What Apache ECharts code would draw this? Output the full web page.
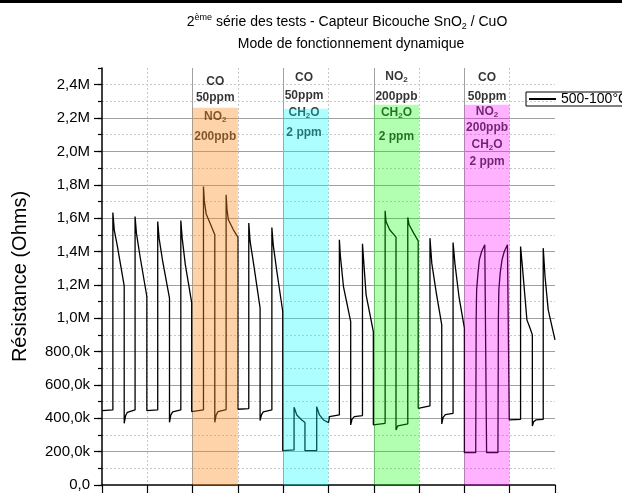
<!DOCTYPE html>
<html>
<head>
<meta charset="utf-8">
<script src="https://cdn.jsdelivr.net/npm/echarts@6/dist/echarts.min.js"></script>
<style>
  html, body { margin: 0; padding: 0; background: #fff; }
  #chart { width: 622px; height: 496px; }
</style>
</head>
<body>
<div id="chart"></div>
<script>
// time (arbitrary units, no labels on the x axis) and resistance in kOhm
const timeData = [
  0, 2.4, 2.4, 2.7, 3.4, 4.9, 4.9, 5.2, 5.6, 7.3,
  7.3, 7.6, 8.4, 9.9, 9.9, 12.3, 12.3, 12.6, 13.4, 14.9,
  14.9, 15.2, 15.6, 17.4, 17.4, 17.7, 18.4, 19.8, 19.8, 22.4,
  22.4, 22.6, 23.0, 24.0, 24.9, 24.9, 25.2, 25.6, 27.4, 27.4,
  27.6, 27.9, 29.0, 30.0, 30.0, 32.4, 32.4, 32.7, 33.5, 34.9,
  34.9, 35.2, 35.6, 37.5, 37.5, 37.8, 38.6, 39.9, 39.9, 42.4,
  42.4, 43.0, 44.1, 44.8, 44.8, 47.4, 47.4, 48.0, 48.9, 50.0,
  50.2, 52.4, 52.4, 52.6, 53.3, 54.9, 54.9, 55.2, 55.7, 57.5,
  57.5, 57.8, 58.3, 59.9, 59.9, 62.5, 62.5, 62.7, 63.5, 64.9,
  64.9, 65.3, 67.5, 67.5, 67.8, 68.8, 69.8, 69.8, 72.4, 72.4,
  72.8, 73.8, 75.0, 75.0, 75.3, 75.8, 77.5, 77.5, 77.9, 78.8,
  80.0, 80.0, 82.5, 82.6, 82.7, 83.0, 83.3, 83.8, 84.5, 84.9,
  84.9, 87.4, 87.5, 87.6, 87.9, 88.3, 88.8, 89.5, 89.9, 89.9,
  92.4, 92.4, 92.8, 93.8, 94.5, 95.0, 95.0, 95.3, 95.8, 97.4,
  97.4, 97.8, 98.5, 100
];
const resistData = [
  446, 450, 1634, 1530, 1430, 1194, 370, 415, 436, 450,
  1610, 1510, 1370, 1130, 446, 450, 1580, 1480, 1340, 1120,
  376, 420, 438, 450, 1586, 1480, 1320, 1094, 440, 450,
  1790, 1700, 1625, 1560, 1500, 376, 420, 440, 452, 1740,
  1650, 1590, 1530, 1486, 454, 458, 1570, 1460, 1320, 1060,
  386, 420, 438, 450, 1544, 1440, 1280, 1040, 206, 210,
  466, 420, 390, 374, 206, 206, 470, 420, 390, 374,
  410, 420, 1470, 1380, 1190, 980, 360, 395, 410, 416,
  1446, 1330, 1140, 920, 360, 370, 1644, 1580, 1530, 1486,
  330, 355, 366, 1604, 1560, 1510, 1464, 460, 474, 1480,
  1330, 1150, 960, 366, 405, 422, 430, 1454, 1330, 1130,
  940, 194, 194, 1000, 1170, 1270, 1350, 1400, 1440, 1446,
  194, 194, 1000, 1170, 1270, 1350, 1400, 1440, 1446, 390,
  394, 1430, 1310, 990, 940, 900, 354, 380, 390, 394,
  1420, 1250, 1050, 870
];

// gas exposure windows
const bandStart = [20, 40, 60, 80];
const bandEnd = [30, 50, 70, 90];
const bandTop = [2262, 2256, 2280, 2280];
const bandColors = ['rgba(255,140,30,0.38)', 'rgba(0,255,255,0.32)', 'rgba(0,255,0,0.3)', 'rgba(255,0,255,0.3)'];

// annotations (x, y in kOhm, text)
const noteX = [25, 25, 25, 25, 44.6, 44.6, 44.6, 44.6, 65, 65, 65, 65, 85, 85, 85, 85, 85, 85];
const noteY = [2420, 2320, 2206, 2090, 2440, 2334, 2230, 2110, 2448, 2326, 2230, 2090, 2440, 2330, 2236, 2140, 2040, 1940];
const noteText = [
  'CO', '50ppm', 'NO{s|2}', '200ppb',
  'CO', '50ppm', 'CH{s|2}O', '2 ppm',
  'NO{s|2}', '200ppb', 'CH{s|2}O', '2 ppm',
  'CO', '50ppm', 'NO{s|2}', '200ppb', 'CH{s|2}O', '2 ppm'
];

const majorTicks = [0, 200, 400, 600, 800, 1000, 1200, 1400, 1600, 1800, 2000, 2200, 2400];

const font = 'Liberation Sans, Arial, sans-serif';

function fmtRes(v) {
  if (v === 0) return '0,0';
  if (v % 200 !== 0) return '';
  if (v >= 1000) return (v / 1000).toFixed(1).replace('.', ',') + 'M';
  return v.toFixed(1).replace('.', ',') + 'k';
}

const chart = echarts.init(document.getElementById('chart'));

const option = {
  animation: false,
  textStyle: { fontFamily: font },
  graphic: [
    { type: 'rect', left: 0, top: 0, shape: { width: 622, height: 3 }, style: { fill: '#000' } }
  ],
  title: [
    {
      text: '2{sup|ème} série des tests - Capteur Bicouche SnO{sub|2} / CuO',
      left: 342, top: 8, textAlign: 'center',
      textStyle: {
        fontFamily: font, fontSize: 14, fontWeight: 'normal', color: '#000', lineHeight: 18,
        rich: {
          sup: { fontFamily: font, fontSize: 9, color: '#000', verticalAlign: 'top', lineHeight: 18 },
          sub: { fontFamily: font, fontSize: 9, color: '#000', verticalAlign: 'bottom', lineHeight: 18 }
        }
      }
    },
    {
      text: 'Mode de fonctionnement dynamique',
      left: 346, top: 32, textAlign: 'center',
      textStyle: { fontFamily: font, fontSize: 14, fontWeight: 'normal', color: '#000' }
    }
  ],
  legend: {
    data: ['500-100°C'],
    left: 526, top: 92,
    orient: 'vertical',
    borderColor: '#000', borderWidth: 1,
    padding: [0, 8, 0, 3],
    icon: 'rect',
    itemWidth: 27, itemHeight: 2,
    itemStyle: { color: '#000', borderWidth: 0 },
    textStyle: { fontFamily: font, fontSize: 14, color: '#000' }
  },
  grid: { left: 102, right: 67, top: 68, bottom: 11 },
  xAxis: {
    type: 'value', min: 0, max: 100, interval: 20,
    axisLine: { lineStyle: { color: '#000', width: 1.5 } },
    axisTick: { length: 8, lineStyle: { color: '#000', width: 1.2 } },
    minorTick: { show: true, splitNumber: 2, length: 8, lineStyle: { color: '#000', width: 1.2 } },
    axisLabel: { show: false },
    splitLine: { show: true, showMinLine: false, showMaxLine: false, lineStyle: { color: '#a0a0a0', width: 1 } },
    minorSplitLine: { show: true, lineStyle: { color: '#c8c8c8', type: [2, 2], width: 1 } }
  },
  yAxis: [
    {
      type: 'value', min: 0, max: 2500, interval: 100,
      name: 'Résistance (Ohms)', nameLocation: 'middle', nameGap: 72,
      nameTextStyle: { fontFamily: font, fontSize: 20, color: '#000' },
      axisLine: { show: true, lineStyle: { color: '#000', width: 1.5 } },
      axisTick: { show: true, length: 4, lineStyle: { color: '#000', width: 1.2 } },
      axisLabel: { show: false },
      splitLine: { show: true, showMinLine: false, showMaxLine: false, lineStyle: { color: '#c8c8c8', type: [2, 2], width: 1 } }
    },
    {
      type: 'value', min: 0, max: 2500, interval: 200, position: 'left',
      axisLine: { show: false },
      axisTick: { show: true, length: 8, customValues: majorTicks, lineStyle: { color: '#000', width: 1.2 } },
      axisLabel: {
        customValues: majorTicks, margin: 12,
        fontFamily: font, fontSize: 15, color: '#000', formatter: fmtRes
      },
      splitLine: { show: true, showMinLine: false, showMaxLine: false, lineStyle: { color: '#a0a0a0', width: 1 } }
    }
  ],
  series: [
    {
      name: '500-100°C',
      type: 'line',
      yAxisIndex: 0,
      symbol: 'none',
      z: 2,
      lineStyle: { color: '#000', width: 1.3 },
      itemStyle: { color: '#000' },
      data: timeData.map((t, i) => [t, resistData[i]])
    },
    {
      type: 'scatter',
      yAxisIndex: 0,
      z: 3,
      symbolSize: 1,
      silent: true,
      itemStyle: { color: 'rgba(0,0,0,0)' },
      label: {
        show: true, position: 'inside',
        fontFamily: font, fontSize: 12, fontWeight: 'bold', color: '#000', lineHeight: 14,
        textBorderWidth: 0,
        formatter: p => p.data[2],
        rich: { s: { fontFamily: font, fontSize: 8, fontWeight: 'bold', color: '#000', verticalAlign: 'bottom', lineHeight: 14, textBorderWidth: 0 } }
      },
      data: noteX.map((x, i) => [x, noteY[i], noteText[i]])
    },
    {
      type: 'line',
      yAxisIndex: 0,
      data: [],
      silent: true,
      markArea: {
        silent: true,
        z: 10,
        data: bandStart.map((s, i) => [
          { xAxis: s, yAxis: 0, itemStyle: { color: bandColors[i] } },
          { xAxis: bandEnd[i], yAxis: bandTop[i] }
        ])
      }
    }
  ]
};

chart.setOption(option);
</script>
</body>
</html>
